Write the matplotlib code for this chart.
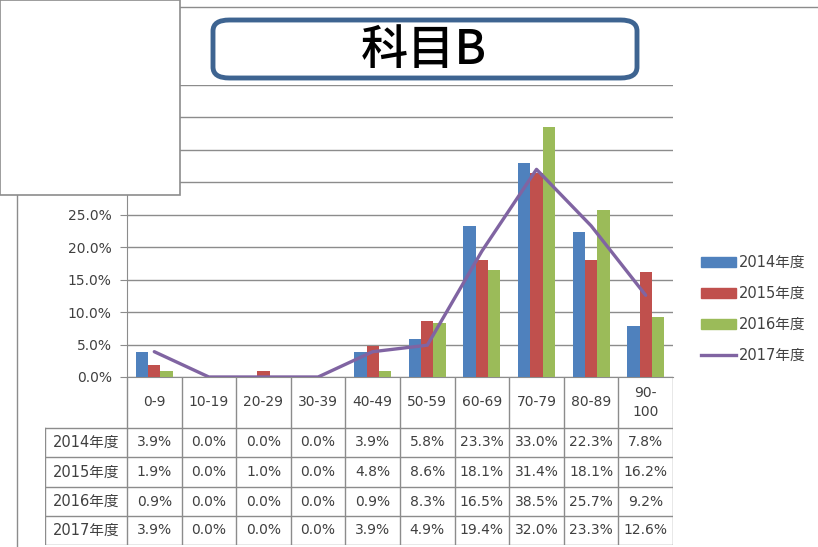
import matplotlib
matplotlib.use("Agg")
import matplotlib.pyplot as plt
from matplotlib.patches import Rectangle, FancyBboxPatch, Patch
from matplotlib.lines import Line2D
import numpy as np

plt.rcParams['font.family'] = ['DejaVu Sans', 'Noto Sans CJK JP']

categories = ['0-9', '10-19', '20-29', '30-39', '40-49', '50-59',
              '60-69', '70-79', '80-89', '90-\n100']
years = ['2014年度', '2015年度', '2016年度', '2017年度']
y2014 = [3.9, 0.0, 0.0, 0.0, 3.9, 5.8, 23.3, 33.0, 22.3, 7.8]
y2015 = [1.9, 0.0, 1.0, 0.0, 4.8, 8.6, 18.1, 31.4, 18.1, 16.2]
y2016 = [0.9, 0.0, 0.0, 0.0, 0.9, 8.3, 16.5, 38.5, 25.7, 9.2]
y2017 = [3.9, 0.0, 0.0, 0.0, 3.9, 4.9, 19.4, 32.0, 23.3, 12.6]
title = '科目B'

c_blue, c_red, c_green, c_purple = '#4F81BD', '#C0504D', '#9BBB59', '#8064A2'
text_c = '#404040'
grid_c = '#8c8c8c'

W, H = 818, 547
fig = plt.figure(figsize=(W / 100, H / 100), dpi=100)


def fx(px):
    return px / W


def fy(py):
    return 1 - py / H


# main plot area
left, right, top, bottom = 127, 673, 85, 377
ax = fig.add_axes([fx(left), fy(bottom), fx(right - left), fy(top) - fy(bottom)])
x = np.arange(len(categories))
bw = 0.225
ax.bar(x - bw, y2014, bw, color=c_blue, zorder=3)
ax.bar(x, y2015, bw, color=c_red, zorder=3)
ax.bar(x + bw, y2016, bw, color=c_green, zorder=3)
ax.plot(x, y2017, color=c_purple, lw=2.4, zorder=4, solid_capstyle='round')

ax.set_xlim(-0.5, len(categories) - 0.5)
ax.set_ylim(0, 45)
ax.set_yticks(np.arange(0, 46, 5))
ax.set_yticklabels([f'{v:.1f}%' for v in np.arange(0, 46, 5)], fontsize=10, color=text_c)
ax.set_xticks([])
ax.yaxis.grid(True, color=grid_c, lw=1)
ax.set_axisbelow(True)
ax.tick_params(axis='y', length=5, color=grid_c, pad=6)
for s in ['top', 'right']:
    ax.spines[s].set_visible(False)
ax.spines['left'].set_color(grid_c)
ax.spines['bottom'].set_color(grid_c)

# data table below the plot
tab_left, tab_bottom = 45, 545
tax = fig.add_axes([fx(tab_left), fy(tab_bottom), fx(right - tab_left), fy(bottom) - fy(tab_bottom)])
cat_w = (right - left) / len(categories)
lbl_w = (left - tab_left) / cat_w
tax.set_xlim(-0.5 - lbl_w, len(categories) - 0.5)
tax.set_ylim(tab_bottom, bottom)
tax.axis('off')
row_edges = [377, 428, 457, 487, 516, 545]
for i in range(len(categories) + 1):
    tax.plot([i - 0.5, i - 0.5], [row_edges[0], row_edges[-1]], color=grid_c, lw=1)
tax.plot([-0.5 - lbl_w] * 2, [row_edges[1], row_edges[-1]], color=grid_c, lw=1)
for r in row_edges[1:]:
    tax.plot([-0.5 - lbl_w, len(categories) - 0.5], [r, r], color=grid_c, lw=1)
for i, c in enumerate(categories):
    tax.text(i, (row_edges[0] + row_edges[1]) / 2, c, ha='center', va='center',
             fontsize=10, color=text_c, linespacing=1.5)
for r, (yr, vals) in enumerate(zip(years, [y2014, y2015, y2016, y2017])):
    yc = (row_edges[r + 1] + row_edges[r + 2]) / 2
    tax.text(-0.5 - lbl_w / 2, yc, yr, ha='center', va='center', fontsize=10.5, color=text_c)
    for i, v in enumerate(vals):
        tax.text(i, yc, f'{v:.1f}%', ha='center', va='center', fontsize=10, color=text_c)

# legend
handles = [Patch(color=c_blue), Patch(color=c_red), Patch(color=c_green),
           Line2D([], [], color=c_purple, lw=2.4)]
fig.legend(handles, years, loc='center left', bbox_to_anchor=(fx(688), fy(309)),
           frameon=False, fontsize=10.5, handlelength=2.4, handleheight=0.75,
           labelspacing=1.1, handletextpad=0.2, labelcolor=text_c)

# frame lines and overlay box
fig.add_artist(Line2D([fx(180), fx(W)], [fy(7), fy(7)], color=grid_c, lw=1))
fig.add_artist(Line2D([fx(17), fx(17)], [fy(195), fy(H)], color=grid_c, lw=1))
fig.add_artist(Rectangle((0, fy(195)), fx(180), 1 - fy(195), transform=fig.transFigure,
                         facecolor='white', edgecolor=grid_c, lw=1.2, zorder=10))
fig.add_artist(Rectangle((fx(180), fy(84)), fx(right - 180), fy(9) - fy(84),
                         transform=fig.transFigure, facecolor='white',
                         edgecolor='none', zorder=9))

# title box
fig.add_artist(FancyBboxPatch((fx(213), fy(78)), fx(637 - 213), fy(20) - fy(78),
                              boxstyle='round,pad=0,rounding_size=0.02',
                              transform=fig.transFigure, facecolor='white',
                              edgecolor='#3E6491', lw=3.5, zorder=11))
fig.text(fx(424), fy(51), title, ha='center', va='center', fontsize=34,
         family=['Noto Sans CJK JP'], fontweight='medium', color='black', zorder=12)

fig.savefig('out.png', dpi=100)
